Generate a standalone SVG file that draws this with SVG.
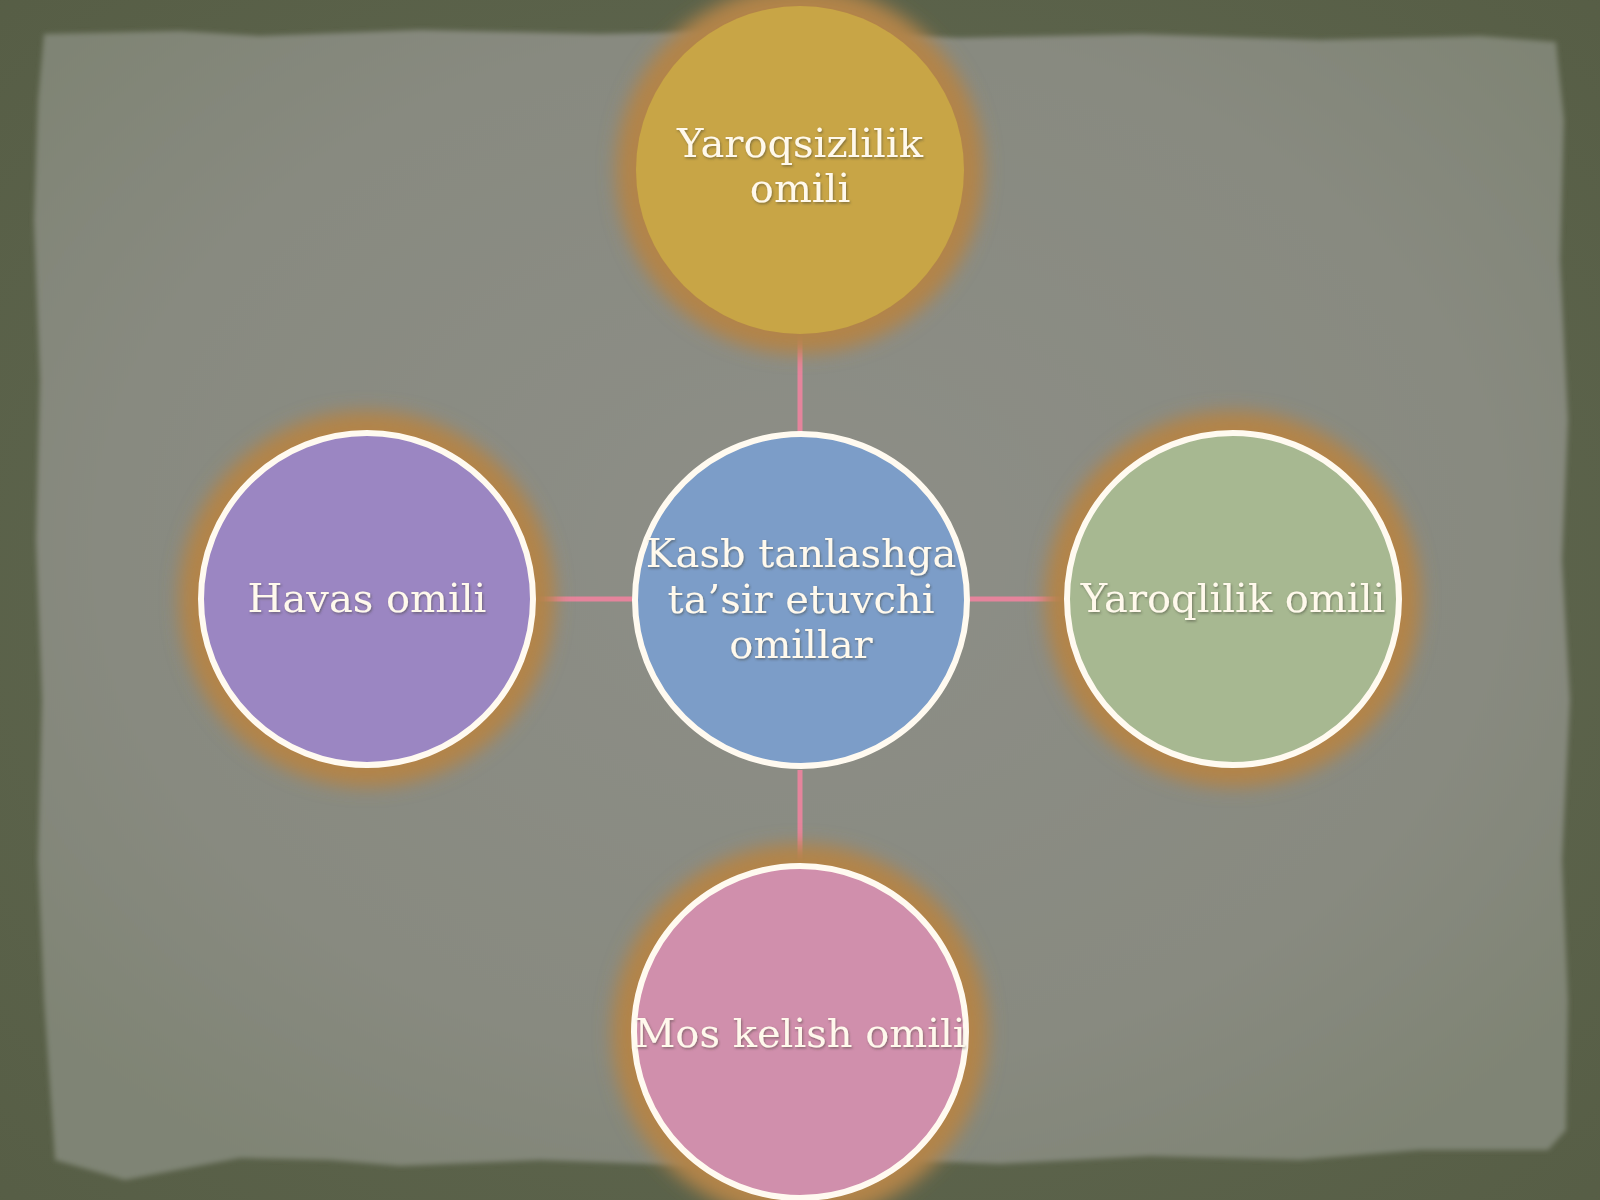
<svg xmlns="http://www.w3.org/2000/svg" width="1600" height="1200" viewBox="0 0 1600 1200">
  <defs>
    <radialGradient id="paperGrad" cx="50%" cy="45%" r="65%">
      <stop offset="0" stop-color="#8d8e87"/>
      <stop offset="0.7" stop-color="#888a80"/>
      <stop offset="1" stop-color="#7f8474"/>
    </radialGradient>
    <radialGradient id="frameGrad" cx="50%" cy="50%" r="75%">
      <stop offset="0" stop-color="#646c54"/>
      <stop offset="1" stop-color="#565d45"/>
    </radialGradient>
    <filter id="glow" x="-30%" y="-30%" width="160%" height="160%">
      <feGaussianBlur stdDeviation="9"/>
    </filter>
    <filter id="soft" x="-10%" y="-10%" width="120%" height="120%">
      <feGaussianBlur stdDeviation="2.5"/>
    </filter>
    <filter id="tshadow" x="-10%" y="-20%" width="120%" height="140%">
      <feDropShadow dx="1" dy="1.5" stdDeviation="1.2" flood-color="#3a3a30" flood-opacity="0.5"/>
    </filter>
  </defs>
  <style>
    .halo { fill: #b2844a; filter: url(#glow); }
    .ring { stroke: #fffaf0; stroke-width: 6; }
    .lbl { font-family: "DejaVu Serif", "Liberation Serif", serif; font-size: 40px; fill: #fff9ec; text-anchor: middle; filter: url(#tshadow); }
    .conn { stroke: #e5849c; stroke-width: 5; fill: none; }
  </style>

  <!-- background frame -->
  <rect x="0" y="0" width="1600" height="1200" fill="url(#frameGrad)"/>
  <!-- torn paper -->
  <path d="M44 34 L180 31 L260 36 L420 30 L600 34 L780 30 L960 38 L1140 34 L1320 40 L1480 36 L1556 42 L1564 120 L1560 260 L1568 420 L1562 560 L1570 700 L1562 860 L1568 1000 L1566 1130 L1548 1150 L1420 1150 L1300 1160 L1150 1156 L1000 1164 L850 1158 L700 1166 L540 1160 L400 1166 L330 1160 L240 1158 L125 1180 L55 1160 L44 1000 L38 860 L42 700 L36 540 L40 380 L34 220 L38 100 Z" fill="url(#paperGrad)" filter="url(#soft)"/>

  <!-- connectors -->
  <g id="connectors">
    <line class="conn" x1="800" y1="332" x2="800" y2="432"/>
    <line class="conn" x1="535" y1="599" x2="632" y2="599"/>
    <line class="conn" x1="970" y1="599" x2="1065" y2="599"/>
    <line class="conn" x1="800" y1="770" x2="800" y2="863"/>
  </g>

  <g id="node-top">
    <circle class="halo" cx="800" cy="170" r="184"/>
    <circle cx="800" cy="170" r="164" fill="#c8a546"/>
    <text class="lbl" x="800" y="157">Yaroqsizlilik</text>
    <text class="lbl" x="800" y="202">omili</text>
  </g>

  <g id="node-left">
    <circle class="halo" cx="367" cy="599" r="188"/>
    <circle class="ring" cx="367" cy="599" r="166" fill="#9b86c2"/>
    <text class="lbl" x="367" y="612">Havas omili</text>
  </g>

  <g id="node-right">
    <circle class="halo" cx="1233" cy="599" r="188"/>
    <circle class="ring" cx="1233" cy="599" r="166" fill="#a7b891"/>
    <text class="lbl" x="1233" y="612">Yaroqlilik omili</text>
  </g>

  <g id="node-bottom">
    <circle class="halo" cx="800" cy="1032" r="188"/>
    <circle class="ring" cx="800" cy="1032" r="166" fill="#d08fac"/>
    <text class="lbl" x="800" y="1047">Mos kelish omili</text>
  </g>

  <g id="node-center">
    <circle class="ring" cx="801" cy="600" r="166" fill="#7c9dc8"/>
    <text class="lbl" x="801" y="567">Kasb tanlashga</text>
    <text class="lbl" x="801" y="613">ta’sir etuvchi</text>
    <text class="lbl" x="801" y="658">omillar</text>
  </g>
</svg>
